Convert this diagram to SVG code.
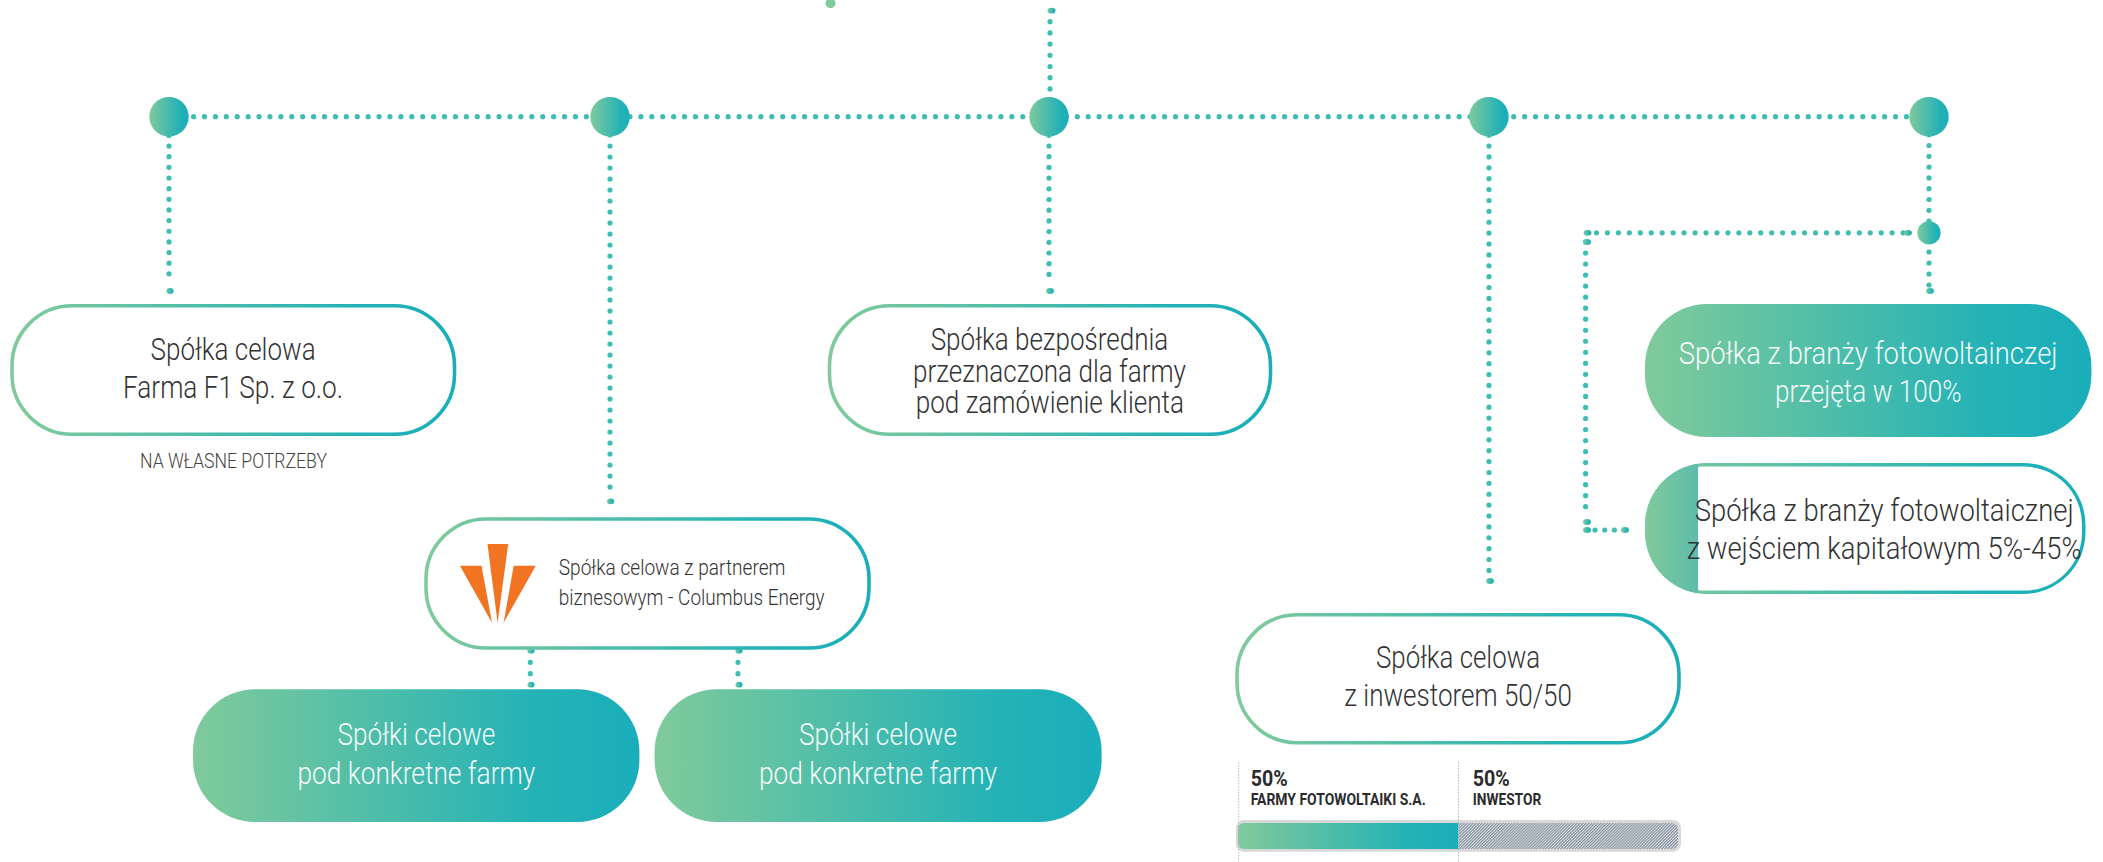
<svg xmlns="http://www.w3.org/2000/svg" width="2103" height="862" viewBox="0 0 2103 862">
<style>
.dot{fill:none;stroke:#3fbdb1;stroke-width:5.2;stroke-linecap:round}
.t{font-family:Roboto,"Noto Sans","Liberation Sans",sans-serif;font-weight:300;font-size:30.5px;fill:#333335}
.w{fill:#fff;opacity:.93}
.s{font-size:22px}
.n{font-size:20.5px;fill:#444}
.b{font-family:Roboto,"Liberation Sans",sans-serif;font-weight:700;fill:#2b2b2d}
.o{fill:#fff;stroke:url(#g);stroke-width:3.6}
.f{fill:url(#g)}
.v{stroke:#b5b5b5;stroke-width:1;stroke-dasharray:1.5 1.5;fill:none}
</style>
<defs>
<linearGradient id="g" x1="0" y1="0" x2="1" y2="0"><stop offset="0" stop-color="#80ca9b"/><stop offset=".77" stop-color="#24b2b6"/><stop offset="1" stop-color="#1aaebb"/></linearGradient>
<linearGradient id="g2" x1="0" y1="0" x2="1" y2="0"><stop offset="0" stop-color="#80ca9b"/><stop offset="1" stop-color="#5dbcab"/></linearGradient>
<pattern id="h" width="2.1" height="2.1" patternUnits="userSpaceOnUse" patternTransform="rotate(45)"><rect width="2.1" height="2.1" fill="#d8dcdf"/><rect width="1.1" height="2.1" fill="#8793a0"/></pattern>
<clipPath id="k"><rect x="1645" y="463" width="440.5" height="131" rx="62"/></clipPath>
</defs>
<g id="connectors">
<line class="dot" x1="193.6" y1="116.7" x2="1910" y2="116.7" stroke-dasharray="0 10.91"/>
<line class="dot" x1="169" y1="135.4" x2="169" y2="284" stroke-dasharray="0 10.65"/>
<line class="dot" x1="610" y1="135" x2="610" y2="489" stroke-dasharray="0 11"/>
<line class="dot" x1="1049" y1="135.3" x2="1049" y2="285" stroke-dasharray="0 10.7"/>
<line class="dot" x1="1489" y1="135.2" x2="1489" y2="571" stroke-dasharray="0 10.88"/>
<line class="dot" x1="1050" y1="21.7" x2="1050" y2="100" stroke-dasharray="0 11.2"/>
<line class="dot" x1="1929" y1="134.7" x2="1929" y2="222" stroke-dasharray="0 10.8"/>
<line class="dot" x1="1929" y1="241" x2="1929" y2="286" stroke-dasharray="0 11"/>
<line class="dot" x1="1596.5" y1="232.8" x2="1905" y2="232.8" stroke-dasharray="0 10.95"/>
<line class="dot" x1="1585.6" y1="242" x2="1585.6" y2="508" stroke-dasharray="0 11.03"/>
<line class="dot" x1="1595" y1="530" x2="1615" y2="530" stroke-dasharray="0 9.7"/>
<line class="dot" x1="530.3" y1="662.3" x2="530.3" y2="674" stroke-dasharray="0 11.4"/>
<line class="dot" x1="738" y1="662.3" x2="738" y2="674" stroke-dasharray="0 11.4"/>
<ellipse class="f" cx="1051.5" cy="10.7" rx="4" ry="2.9"/>
<ellipse class="f" cx="170" cy="291" rx="3.6" ry="2.9"/>
<ellipse class="f" cx="610.6" cy="501.3" rx="3.6" ry="2.9"/>
<ellipse class="f" cx="1050" cy="291" rx="4" ry="2.9"/>
<ellipse class="f" cx="1490" cy="581" rx="4" ry="2.9"/>
<ellipse class="f" cx="1930" cy="291" rx="4" ry="2.9"/>
<ellipse class="f" cx="1587.5" cy="232.8" rx="4" ry="2.9"/>
<ellipse class="f" cx="1587" cy="242" rx="4" ry="2.9"/>
<ellipse class="f" cx="1587" cy="522" rx="4" ry="2.9"/>
<ellipse class="f" cx="1587" cy="530" rx="4" ry="2.9"/>
<ellipse class="f" cx="1625" cy="530" rx="4" ry="2.9"/>
<ellipse class="f" cx="1908" cy="232.8" rx="4" ry="2.9"/>
<ellipse class="f" cx="531" cy="650.7" rx="3.6" ry="2.9"/>
<ellipse class="f" cx="531" cy="684.7" rx="3.6" ry="2.9"/>
<ellipse class="f" cx="739" cy="650.7" rx="3.6" ry="2.9"/>
<ellipse class="f" cx="739" cy="684.7" rx="3.6" ry="2.9"/>
</g>
<g id="junctions">
<circle cx="830.5" cy="3.3" r="5" fill="#7fca9b"/>
<circle class="f" cx="169" cy="116.7" r="19.7"/>
<circle class="f" cx="610" cy="116.7" r="19.7"/>
<circle class="f" cx="1049" cy="116.7" r="19.7"/>
<circle class="f" cx="1489" cy="116.7" r="19.7"/>
<circle class="f" cx="1929" cy="116.7" r="19.7"/>
<circle class="f" cx="1929" cy="232.8" r="11.6"/>
</g>
<g id="node-f1">
<rect class="o" x="12" y="305.8" width="442.5" height="128.5" rx="60"/>
<text class="t" x="150.6" y="360" textLength="165" lengthAdjust="spacingAndGlyphs">Spółka celowa</text>
<text class="t" x="123" y="398" textLength="220" lengthAdjust="spacingAndGlyphs">Farma F1 Sp. z o.o.</text>
<text class="t n" x="140" y="468" textLength="187" lengthAdjust="spacingAndGlyphs">NA WŁASNE POTRZEBY</text>
</g>
<g id="node-bezposrednia">
<rect class="o" x="829.5" y="305.8" width="441" height="128.5" rx="60"/>
<text class="t" x="930.7" y="350" textLength="237.6" lengthAdjust="spacingAndGlyphs">Spółka bezpośrednia</text>
<text class="t" x="913" y="381.7" textLength="273" lengthAdjust="spacingAndGlyphs">przeznaczona dla farmy</text>
<text class="t" x="915.7" y="413.3" textLength="268.3" lengthAdjust="spacingAndGlyphs">pod zamówienie klienta</text>
</g>
<g id="node-columbus">
<rect class="o" x="426" y="519" width="443" height="129" rx="60"/>
<polygon points="487.5,544 508.2,544 497.6,622.7" fill="#f07422"/>
<polygon points="459.9,565.7 481.5,565.7 492,622.7" fill="#f07422"/>
<polygon points="513.7,565.7 535.8,565.7 503.6,622.7" fill="#f07422"/>
<text class="t s" x="558.8" y="575" textLength="226.6" lengthAdjust="spacingAndGlyphs">Spółka celowa z partnerem</text>
<text class="t s" x="558.8" y="605" textLength="265.7" lengthAdjust="spacingAndGlyphs">biznesowym - Columbus Energy</text>
</g>
<g id="node-farmy-1">
<rect class="f" x="193" y="689.3" width="446.4" height="132.7" rx="62"/>
<text class="t w" x="337.4" y="745" textLength="158" lengthAdjust="spacingAndGlyphs">Spółki celowe</text>
<text class="t w" x="297.4" y="784" textLength="238" lengthAdjust="spacingAndGlyphs">pod konkretne farmy</text>
</g>
<g id="node-farmy-2">
<rect class="f" x="654.6" y="689.3" width="447" height="132.7" rx="62"/>
<text class="t w" x="799" y="745" textLength="158" lengthAdjust="spacingAndGlyphs">Spółki celowe</text>
<text class="t w" x="759" y="784" textLength="238" lengthAdjust="spacingAndGlyphs">pod konkretne farmy</text>
</g>
<g id="node-przejeta">
<rect class="f" x="1645" y="304" width="446.4" height="133" rx="62"/>
<text class="t w" text-anchor="middle" transform="translate(1868.2 363.5) scale(.9 1)">Spółka z branży fotowoltainczej</text>
<text class="t w" x="1868.3" y="402.4" text-anchor="middle" textLength="186.6" lengthAdjust="spacingAndGlyphs">przejęta w 100%</text>
</g>
<g id="node-kapitalowa">
<rect class="f" x="1645" y="463" width="440.5" height="131" rx="62"/>
<rect x="1645" y="463" width="53" height="131" fill="url(#g2)" clip-path="url(#k)"/>
<path d="M1700 466.6H2024a58 58 0 0 1 58 58V532a58 58 0 0 1-58 58.6H1700a2 2 0 0 1-2-2V468.6a2 2 0 0 1 2-2Z" fill="#fff"/>
<text class="t" text-anchor="middle" transform="translate(1884.2 520.7) scale(.9 1)">Spółka z branży fotowoltaicznej</text>
<text class="t" text-anchor="middle" transform="translate(1884.2 558.6) scale(.9 1)">z wejściem kapitałowym 5%-45%</text>
</g>
<g id="node-inwestor">
<rect class="o" x="1237" y="614.8" width="442" height="128" rx="60"/>
<text class="t" x="1376" y="667.7" textLength="164" lengthAdjust="spacingAndGlyphs">Spółka celowa</text>
<text class="t" x="1344.3" y="705.7" textLength="227.7" lengthAdjust="spacingAndGlyphs">z inwestorem 50/50</text>
</g>
<g id="share-bar">
<rect x="1236" y="820" width="445" height="31.7" rx="8" fill="#d8d8d8"/>
<path d="M1458.3 823H1672a6 6 0 0 1 6 6V843a6 6 0 0 1-6 6H1458.3Z" fill="url(#h)"/>
<path d="M1458.3 823H1244a6 6 0 0 0-6 6V843a6 6 0 0 0 6 6H1458.3Z" fill="url(#g)"/>
<line class="v" x1="1238.7" y1="762" x2="1238.7" y2="862"/>
<line class="v" x1="1458.5" y1="762" x2="1458.5" y2="862"/>
<text class="b" x="1250.7" y="785.7" font-size="22" textLength="37" lengthAdjust="spacingAndGlyphs">50%</text>
<text class="b" x="1250.7" y="805" font-size="16.4" textLength="175" lengthAdjust="spacingAndGlyphs">FARMY FOTOWOLTAIKI S.A.</text>
<text class="b" x="1472.7" y="785.7" font-size="22" textLength="37" lengthAdjust="spacingAndGlyphs">50%</text>
<text class="b" x="1472.7" y="805" font-size="16.4" textLength="68.5" lengthAdjust="spacingAndGlyphs">INWESTOR</text>
</g>
</svg>
